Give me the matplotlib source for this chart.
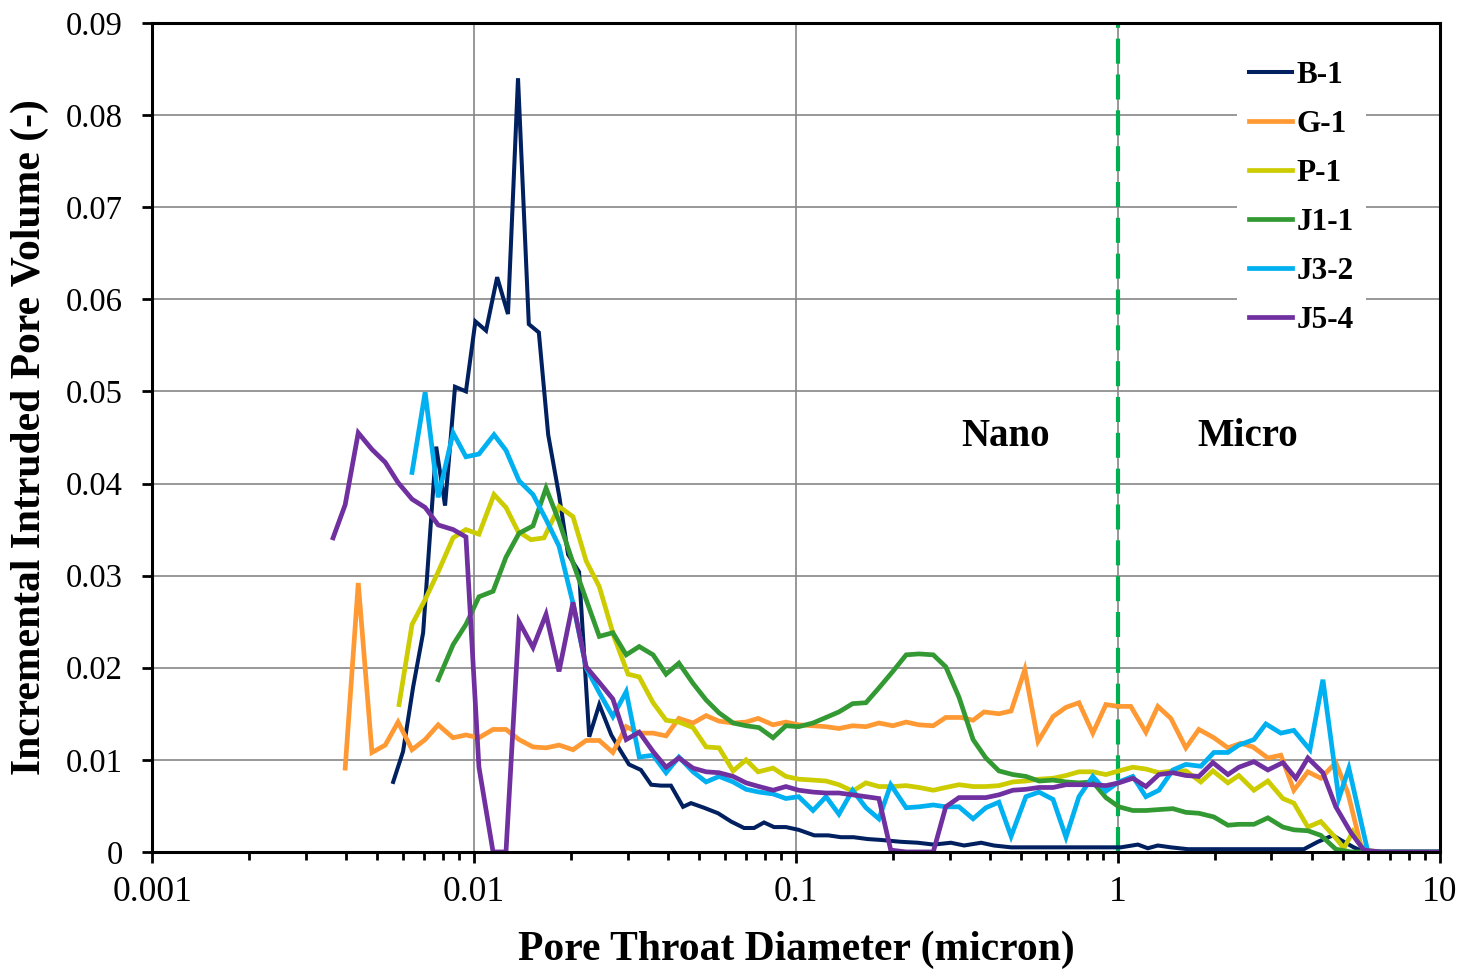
import matplotlib
matplotlib.use("Agg")
import matplotlib.pyplot as plt
from matplotlib.ticker import FixedLocator, FuncFormatter, LogLocator, NullFormatter

plt.rcParams['font.family'] = ['Liberation Serif', 'DejaVu Serif']

# pore throat diameter (micron) and incremental intruded pore volume (-)
b1_d = [0.00561, 0.00602, 0.00647, 0.00695, 0.00763, 0.00813, 0.00873, 0.00944, 0.0101, 0.0109,
        0.0118, 0.01275, 0.0137, 0.0148, 0.0159, 0.0170, 0.0184, 0.0196, 0.0212, 0.0228,
        0.0245, 0.0267, 0.0284, 0.0303, 0.0330, 0.0355, 0.0381, 0.0409, 0.0446, 0.0472,
        0.0518, 0.0573, 0.0629, 0.0690, 0.0741, 0.0796, 0.0855, 0.0931, 0.102, 0.114,
        0.126, 0.138, 0.151, 0.167, 0.184, 0.212, 0.239, 0.268, 0.303, 0.333,
        0.376, 0.412, 0.466, 0.537, 0.620, 0.715, 0.825, 0.918, 1.022, 1.154,
        1.239, 1.331, 1.461, 1.65, 1.81, 2.015, 2.244, 2.497, 2.781, 3.095,
        3.446, 3.782, 4.18, 4.655, 5.036, 5.406, 5.808, 6.56, 7.565, 8.73, 10.0]
b1_v = [0.0076, 0.0109, 0.0179, 0.0238, 0.0440, 0.0376, 0.0505, 0.0500, 0.0576, 0.0566,
        0.0624, 0.0584, 0.0840, 0.0573, 0.0564, 0.0453, 0.0386, 0.0323, 0.0304, 0.0125,
        0.0160, 0.0127, 0.0111, 0.0095, 0.0089, 0.0073, 0.0072, 0.0072, 0.0049, 0.0053,
        0.0048, 0.0042, 0.0033, 0.0026, 0.0026, 0.0032, 0.0027, 0.0027, 0.0024, 0.0018,
        0.0018, 0.0016, 0.0016, 0.0014, 0.0013, 0.0011, 0.0010, 0.0008, 0.0010, 0.0007,
        0.0010, 0.0007, 0.0005, 0.0005, 0.0005, 0.0005, 0.0005, 0.0005, 0.0005, 0.0008,
        0.0004, 0.0007, 0.0005, 0.0003, 0.0003, 0.0003, 0.0003, 0.0003, 0.0003, 0.0003,
        0.0003, 0.0003, 0.0011, 0.0018, 0.0011, 0.0005, 0.0, 0.0, 0.0, 0.0, 0.0]

g1_d = [0.00398, 0.00437, 0.00482, 0.00530, 0.00581, 0.00642, 0.00705, 0.00774, 0.00861, 0.00944,
        0.01036, 0.01146, 0.01257, 0.0138, 0.01525, 0.01674, 0.01837, 0.0203, 0.0223, 0.0245,
        0.0270, 0.0297, 0.0326, 0.0360, 0.0395, 0.0433, 0.0479, 0.0526, 0.0577, 0.0638,
        0.0700, 0.0763, 0.0849, 0.0931, 0.102, 0.113, 0.124, 0.136, 0.150, 0.165,
        0.181, 0.200, 0.220, 0.241, 0.267, 0.292, 0.326, 0.355, 0.384, 0.427,
        0.466, 0.514, 0.565, 0.629, 0.690, 0.757, 0.836, 0.918, 1.007, 1.097,
        1.222, 1.331, 1.461, 1.626, 1.785, 1.987, 2.197, 2.41, 2.627, 2.924,
        3.208, 3.521, 3.893, 4.27, 4.753, 5.182, 5.686, 5.979, 6.56, 7.565,
        8.73, 10.0]
g1_v = [0.0091, 0.0292, 0.0108, 0.0116, 0.0141, 0.0111, 0.0122, 0.0138, 0.0124, 0.0127,
        0.0124, 0.0133, 0.0133, 0.0122, 0.0114, 0.0113, 0.0116, 0.0111, 0.0121, 0.0121,
        0.0108, 0.0136, 0.0129, 0.0129, 0.0126, 0.0145, 0.0140, 0.0148, 0.0142, 0.0140,
        0.0141, 0.0145, 0.0138, 0.0141, 0.0138, 0.0137, 0.0136, 0.0134, 0.0137, 0.0136,
        0.0140, 0.0137, 0.0141, 0.0138, 0.0137, 0.0146, 0.0146, 0.0143, 0.0152, 0.0150,
        0.0153, 0.0198, 0.0120, 0.0147, 0.0157, 0.0162, 0.0129, 0.0160, 0.0158, 0.0158,
        0.0130, 0.0158, 0.0145, 0.0113, 0.0133, 0.0124, 0.0113, 0.0118, 0.0114, 0.0102,
        0.0105, 0.0067, 0.0087, 0.0080, 0.0097, 0.0064, 0.0007, 0.0, 0.0, 0.0,
        0.0, 0.0]

p1_d = [0.00585, 0.00642, 0.00705, 0.00774, 0.00861, 0.00944, 0.01036, 0.01154, 0.01257, 0.0137,
        0.01503, 0.0165, 0.01837, 0.0203, 0.0223, 0.0245, 0.0272, 0.0301, 0.0326, 0.0360,
        0.0395, 0.0433, 0.0479, 0.0526, 0.0577, 0.0638, 0.0700, 0.0763, 0.0849, 0.0931,
        0.102, 0.113, 0.124, 0.136, 0.150, 0.165, 0.181, 0.200, 0.220, 0.241,
        0.267, 0.292, 0.321, 0.355, 0.389, 0.427, 0.472, 0.518, 0.569, 0.629,
        0.690, 0.757, 0.836, 0.918, 1.007, 1.113, 1.222, 1.341, 1.482, 1.626,
        1.810, 1.973, 2.197, 2.376, 2.646, 2.924, 3.255, 3.521, 3.893, 4.27,
        4.753, 5.036, 5.371, 5.808, 6.56, 7.565, 8.73, 10.0]
p1_v = [0.0160, 0.0247, 0.0274, 0.0304, 0.0341, 0.0350, 0.0345, 0.0388, 0.0374, 0.0348,
        0.0339, 0.0341, 0.0375, 0.0364, 0.0316, 0.0288, 0.0234, 0.0193, 0.0190, 0.0162,
        0.0143, 0.0141, 0.0135, 0.0114, 0.0113, 0.0088, 0.0100, 0.0087, 0.0091, 0.0082,
        0.0079, 0.0078, 0.0077, 0.0073, 0.0066, 0.0075, 0.0071, 0.0071, 0.0072, 0.0070,
        0.0067, 0.0070, 0.0073, 0.0071, 0.0071, 0.0072, 0.0076, 0.0077, 0.0079, 0.0080,
        0.0083, 0.0087, 0.0087, 0.0084, 0.0088, 0.0092, 0.0090, 0.0086, 0.0088, 0.0088,
        0.0076, 0.0088, 0.0075, 0.0083, 0.0067, 0.0077, 0.0058, 0.0053, 0.0027, 0.0033,
        0.0015, 0.0004, 0.0022, 0.0002, 0.0, 0.0, 0.0, 0.0]

j11_d = [0.00774, 0.00861, 0.00944, 0.01036, 0.01146, 0.01257, 0.0138, 0.01525, 0.01674, 0.01837,
         0.0203, 0.0223, 0.0245, 0.0270, 0.0297, 0.0326, 0.0360, 0.0395, 0.0433, 0.0479,
         0.0526, 0.0577, 0.0638, 0.0700, 0.0768, 0.0849, 0.0931, 0.102, 0.113, 0.124,
         0.136, 0.150, 0.165, 0.181, 0.200, 0.220, 0.241, 0.267, 0.292, 0.321,
         0.355, 0.389, 0.427, 0.472, 0.518, 0.569, 0.629, 0.690, 0.757, 0.836,
         0.918, 1.007, 1.113, 1.222, 1.341, 1.482, 1.626, 1.785, 1.987, 2.197,
         2.376, 2.646, 2.924, 3.255, 3.521, 3.893, 4.27, 4.753, 5.295, 6.56,
         7.565, 8.73, 10.0]
j11_v = [0.0187, 0.0225, 0.0247, 0.0277, 0.0283, 0.0320, 0.0346, 0.0354, 0.0395, 0.0359,
         0.0314, 0.0274, 0.0234, 0.0238, 0.0214, 0.0223, 0.0214, 0.0193, 0.0205, 0.0183,
         0.0165, 0.0151, 0.0140, 0.0137, 0.0135, 0.0124, 0.0137, 0.0136, 0.0140, 0.0146,
         0.0152, 0.0161, 0.0162, 0.0178, 0.0196, 0.0214, 0.0215, 0.0214, 0.0201, 0.0168,
         0.0122, 0.0102, 0.0088, 0.0084, 0.0082, 0.0077, 0.0078, 0.0076, 0.0075, 0.0076,
         0.0059, 0.0049, 0.0045, 0.0045, 0.0046, 0.0047, 0.0043, 0.0042, 0.0038, 0.0029,
         0.0030, 0.0030, 0.0037, 0.0027, 0.0024, 0.0023, 0.0018, 0.0003, 0.0, 0.0,
         0.0, 0.0, 0.0]

j32_d = [0.00642, 0.00705, 0.00774, 0.00861, 0.00944, 0.01036, 0.01154, 0.01257, 0.0138, 0.01525,
         0.01674, 0.01837, 0.0203, 0.0223, 0.0245, 0.0270, 0.0297, 0.0326, 0.0360, 0.0395,
         0.0433, 0.0479, 0.0526, 0.0577, 0.0638, 0.0700, 0.0768, 0.0849, 0.0931, 0.102,
         0.113, 0.124, 0.136, 0.150, 0.165, 0.181, 0.197, 0.220, 0.241, 0.267,
         0.292, 0.321, 0.355, 0.389, 0.427, 0.466, 0.518, 0.569, 0.629, 0.690,
         0.757, 0.836, 0.918, 1.007, 1.113, 1.222, 1.341, 1.482, 1.626, 1.810,
         1.987, 2.197, 2.376, 2.646, 2.882, 3.208, 3.521, 3.948, 4.334, 4.857,
         5.218, 5.979, 6.56, 7.565, 8.73, 10.0]
j32_v = [0.0412, 0.0499, 0.0385, 0.0455, 0.0429, 0.0432, 0.0453, 0.0436, 0.0403, 0.0388,
         0.0361, 0.0332, 0.0270, 0.0200, 0.0173, 0.0147, 0.0174, 0.0103, 0.0105, 0.0086,
         0.0103, 0.0087, 0.0076, 0.0082, 0.0076, 0.0068, 0.0065, 0.0063, 0.0058, 0.0060,
         0.0045, 0.0060, 0.0041, 0.0067, 0.0048, 0.0036, 0.0073, 0.0048, 0.0049, 0.0051,
         0.0049, 0.0049, 0.0036, 0.0048, 0.0054, 0.0017, 0.0060, 0.0065, 0.0057, 0.0016,
         0.0060, 0.0082, 0.0066, 0.0076, 0.0082, 0.0060, 0.0067, 0.0089, 0.0095, 0.0093,
         0.0108, 0.0108, 0.0116, 0.0122, 0.0139, 0.0129, 0.0132, 0.0111, 0.0187, 0.0058,
         0.0091, 0.0, 0.0, 0.0, 0.0, 0.0]

j54_d = [0.00365, 0.00398, 0.00437, 0.00482, 0.00530, 0.00581, 0.00642, 0.00705, 0.00774, 0.00861,
         0.00944, 0.01036, 0.01146, 0.01257, 0.0138, 0.01525, 0.01674, 0.01837, 0.0203, 0.0223,
         0.0245, 0.0270, 0.0297, 0.0326, 0.0360, 0.0395, 0.0433, 0.0479, 0.0526, 0.0577,
         0.0638, 0.0700, 0.0768, 0.0849, 0.0931, 0.102, 0.113, 0.124, 0.136, 0.150,
         0.165, 0.181, 0.197, 0.220, 0.241, 0.267, 0.292, 0.321, 0.355, 0.389,
         0.427, 0.472, 0.518, 0.569, 0.629, 0.690, 0.757, 0.836, 0.918, 1.007,
         1.113, 1.222, 1.341, 1.482, 1.626, 1.785, 1.973, 2.197, 2.376, 2.646,
         2.924, 3.255, 3.571, 3.893, 4.334, 4.753, 5.295, 5.808, 6.56, 7.565,
         8.73, 10.0]
j54_v = [0.0341, 0.0377, 0.0455, 0.0437, 0.0423, 0.0401, 0.0383, 0.0374, 0.0355, 0.0350,
         0.0342, 0.0092, 0.0, 0.0, 0.0250, 0.0222, 0.0258, 0.0196, 0.0271, 0.0201,
         0.0184, 0.0166, 0.0122, 0.0130, 0.0109, 0.0092, 0.0102, 0.0091, 0.0087, 0.0086,
         0.0082, 0.0075, 0.0071, 0.0067, 0.0071, 0.0067, 0.0065, 0.0064, 0.0064, 0.0062,
         0.0060, 0.0058, 0.0002, 0.0, 0.0, 0.0, 0.0049, 0.0059, 0.0059, 0.0059,
         0.0062, 0.0067, 0.0068, 0.0070, 0.0070, 0.0073, 0.0073, 0.0073, 0.0072, 0.0075,
         0.0080, 0.0071, 0.0084, 0.0086, 0.0083, 0.0082, 0.0097, 0.0084, 0.0092, 0.0098,
         0.0089, 0.0097, 0.0080, 0.0102, 0.0086, 0.0049, 0.0021, 0.0002, 0.0, 0.0,
         0.0, 0.0]

series = [
    ("B-1", b1_d, b1_v, "#002060", 2.9),
    ("G-1", g1_d, g1_v, "#FF9933", 3.4),
    ("P-1", p1_d, p1_v, "#CCCC00", 3.4),
    ("J1-1", j11_d, j11_v, "#339933", 3.4),
    ("J3-2", j32_d, j32_v, "#00B0F0", 3.4),
    ("J5-4", j54_d, j54_v, "#7030A0", 3.4),
]

fig = plt.figure(figsize=(14.65, 9.77), dpi=100)
ax = fig.add_axes([0.1038, 0.128, 0.879, 0.8485])

for name, d, v, col, lw in series:
    ax.plot(d, v, color=col, lw=lw, label=name, solid_joinstyle='miter')

# nano / micro boundary
ax.axvline(1.0, color="#00B050", lw=3.0, linestyle=(0, (6, 2.6)), zorder=1)

ax.set_xscale("log")
ax.set_xlim(0.001, 10)
ax.set_ylim(0, 0.09)
ax.set_yticks([i / 100 for i in range(10)])
ax.yaxis.set_major_formatter(FuncFormatter(lambda v, p: "0" if v == 0 else "%.2f" % v))
ax.xaxis.set_major_locator(FixedLocator([0.001, 0.01, 0.1, 1, 10]))
ax.xaxis.set_major_formatter(FuncFormatter(lambda v, p: "%g" % v))
ax.xaxis.set_minor_locator(LogLocator(base=10, subs=range(2, 10)))
ax.xaxis.set_minor_formatter(NullFormatter())

ax.grid(True, which="major", color="#868686", lw=1.2)
ax.set_axisbelow(True)
for s in ax.spines.values():
    s.set_linewidth(2.2)
    s.set_color("black")

ax.tick_params(axis="both", which="both", direction="out", width=2.0)
ax.tick_params(axis="y", length=7.2, pad=14, labelsize=23.5)
ax.tick_params(axis="x", which="major", length=8, pad=9, labelsize=25.5)
ax.tick_params(axis="x", which="minor", length=5.8)

ax.set_xlabel("Pore Throat Diameter (micron)", fontsize=30, fontweight="bold", labelpad=16)
ax.set_ylabel("Incremental Intruded Pore Volume (-)", fontsize=30, fontweight="bold", labelpad=12)

ax.text(0.449, 0.0451, "Nano", fontsize=28, fontweight="bold", ha="center", va="center")
ax.text(2.53, 0.0451, "Micro", fontsize=28, fontweight="bold", ha="center", va="center")

leg = ax.legend(loc="upper left", bbox_to_anchor=(0.830, 0.988), frameon=True, fancybox=False,
                edgecolor="none", facecolor="white", framealpha=1.0,
                prop={"size": 22.5, "weight": "bold"}, handlelength=1.38, handletextpad=0.13,
                labelspacing=0.64, borderpad=0.4)

fig.savefig("out.png", dpi=100)
